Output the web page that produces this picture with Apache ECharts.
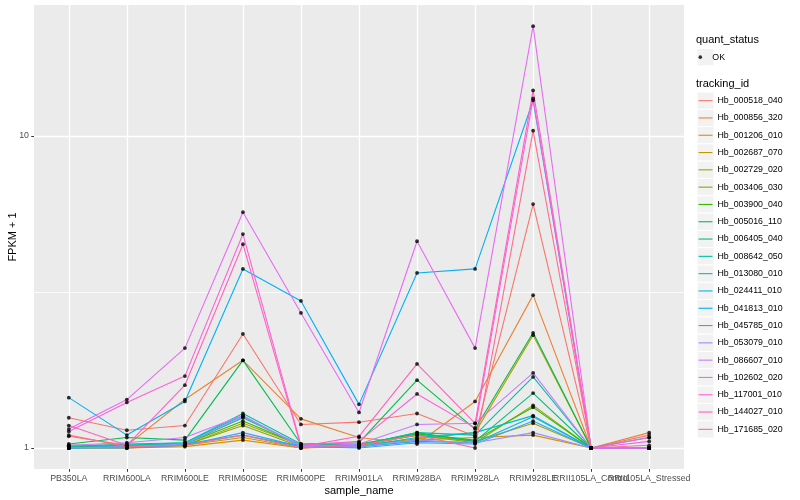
<!DOCTYPE html>
<html><head><meta charset="utf-8">
<script src="https://cdn.jsdelivr.net/npm/echarts@6/dist/echarts.min.js"></script>
<style>html,body{margin:0;padding:0;background:#fff}#c{width:800px;height:500px}</style>
</head><body><div id="c"></div>
<script>
// ---- data ----
const categories = ['PB350LA','RRIM600LA','RRIM600LE','RRIM600SE','RRIM600PE','RRIM901LA','RRIM928BA','RRIM928LA','RRIM928LE','RRII105LA_Control','RRII105LA_Stressed'];
const trackingIds = ['Hb_000518_040','Hb_000856_320','Hb_001206_010','Hb_002687_070','Hb_002729_020','Hb_003406_030','Hb_003900_040','Hb_005016_110','Hb_006405_040','Hb_008642_050','Hb_013080_010','Hb_024411_010','Hb_041813_010','Hb_045785_010','Hb_053079_010','Hb_086607_010','Hb_102602_020','Hb_117001_010','Hb_144027_010','Hb_171685_020'];
const Hb_000518_040 = [1.25, 1.14, 1.18, 2.32, 1.19, 1.21, 1.29, 1.09, 6.05, 1, 1.10];
const Hb_000856_320 = [1.09, 1.02, 1.43, 1.91, 1.24, 1.08, 1.03, 1.41, 3.09, 1, 1.12];
const Hb_001206_010 = [1.00, 1.00, 1.01, 1.06, 1.00, 1.01, 1.06, 1.08, 1.10, 1, 1.00];
const Hb_002687_070 = [1.00, 1.00, 1.02, 1.08, 1.00, 1.02, 1.07, 1.12, 2.30, 1, 1.00];
const Hb_002729_020 = [1.00, 1.01, 1.02, 1.20, 1.02, 1.02, 1.10, 1.05, 1.20, 1, 1.00];
const Hb_003406_030 = [1.01, 1.01, 1.02, 1.18, 1.01, 1.02, 1.10, 1.04, 1.37, 1, 1.00];
const Hb_003900_040 = [1.02, 1.02, 1.03, 1.22, 1.02, 1.03, 1.11, 1.06, 1.35, 1, 1.00];
const Hb_005016_110 = [1.03, 1.08, 1.06, 1.91, 1.03, 1.04, 1.65, 1.15, 2.34, 1, 1.00];
const Hb_006405_040 = [1.00, 1.02, 1.03, 1.25, 1.02, 1.02, 1.12, 1.05, 1.50, 1, 1.00];
const Hb_008642_050 = [1.01, 1.03, 1.04, 1.29, 1.03, 1.02, 1.12, 1.10, 1.69, 1, 1.00];
const Hb_013080_010 = [1.00, 1.02, 1.04, 1.27, 1.01, 1.01, 1.08, 1.12, 1.27, 1, 1.00];
const Hb_024411_010 = [1.00, 1.01, 1.03, 1.10, 1.01, 1.01, 1.05, 1.04, 1.26, 1, 1.00];
const Hb_041813_010 = [1.45, 1.10, 1.41, 3.75, 2.96, 1.38, 3.64, 3.75, 13.0, 1, 1.08];
const Hb_045785_010 = [1.00, 1.00, 1.02, 1.12, 1.01, 1.00, 1.04, 1.03, 1.22, 1, 1.00];
const Hb_053079_010 = [1.00, 1.01, 1.03, 1.26, 1.02, 1.01, 1.06, 1.04, 1.12, 1, 1.00];
const Hb_086607_010 = [1.02, 1.04, 1.08, 1.27, 1.01, 1.03, 1.19, 1.20, 1.74, 1, 1.00];
const Hb_102602_020 = [1.15, 1.43, 2.09, 5.70, 2.71, 1.30, 4.60, 2.09, 22.5, 1, 1.05];
const Hb_117001_010 = [1.13, 1.40, 1.70, 4.85, 1.02, 1.05, 1.49, 1.16, 13.2, 1, 1.00];
const Hb_144027_010 = [1.18, 1.02, 1.59, 4.50, 1.01, 1.09, 1.86, 1.20, 14.0, 1, 1.08];
const Hb_171685_020 = [1.10, 1.01, 1.02, 1.10, 1.00, 1.02, 1.10, 1.00, 10.4, 1, 1.02];
const seriesValues = [Hb_000518_040,Hb_000856_320,Hb_001206_010,Hb_002687_070,Hb_002729_020,Hb_003406_030,Hb_003900_040,Hb_005016_110,Hb_006405_040,Hb_008642_050,Hb_013080_010,Hb_024411_010,Hb_041813_010,Hb_045785_010,Hb_053079_010,Hb_086607_010,Hb_102602_020,Hb_117001_010,Hb_144027_010,Hb_171685_020];
const colors = ['#F8766D','#EA8331','#D89000','#C09B00','#A3A500','#7CAE00','#39B600','#00BB4E','#00BF7D','#00C1A3','#00BFC4','#00BAE0','#00B0F6','#35A2FF','#9590FF','#C77CFF','#E76BF3','#FA62DB','#FF62BC','#FF6C91'];
const yTickLabels = [1, 10];
const yMinorGrid = [3.1623];
const statusName = 'OK';

// ---- chart ----
const FONT = '"Liberation Sans", Arial, "DejaVu Sans", sans-serif';
const chart = echarts.init(document.getElementById('c'), null, {renderer: 'canvas'});
const catIdx = categories.map((_, i) => i);
// labels split over two overlaid axes so that overlapping labels are all drawn (as in the original)
const labelSetA = catIdx.filter(i => i % 2 === 0);
const labelSetB = catIdx.filter(i => i % 2 === 1);

const lineSeries = trackingIds.map((id, k) => ({
  name: id, type: 'line', symbol: 'none', silent: true, z: 2,
  color: colors[k],
  lineStyle: {color: colors[k], width: 1.1},
  data: seriesValues[k].map((v, j) => [j, v])
}));
const pts = [];
seriesValues.forEach(arr => arr.forEach((v, j) => pts.push([j, v])));

const KEY_TOP = 92, KEY_H = 17.3;
const graphics = [
  {type: 'text', left: 696, top: 34, style: {text: 'quant_status', font: '11px ' + FONT, fill: '#000'}},
  {type: 'rect', shape: {x: 697, y: 48.5, width: 17, height: 17.3}, style: {fill: '#F2F2F2', stroke: '#fff', lineWidth: 1}},
  {type: 'text', left: 696, top: 78, style: {text: 'tracking_id', font: '11px ' + FONT, fill: '#000'}}
];
trackingIds.forEach((id, i) => graphics.push({type: 'rect', shape: {x: 697, y: KEY_TOP + i * KEY_H, width: 17, height: KEY_H}, style: {fill: '#F2F2F2', stroke: '#fff', lineWidth: 1}}));

const labelStyle = {margin: 5, fontSize: 8.8, color: '#4D4D4D', fontFamily: FONT,
  showMinLabel: true, showMaxLabel: true, hideOverlap: false,
  formatter: v => categories[Math.round(v)] || ''};

chart.setOption({
  animation: false,
  backgroundColor: '#fff',
  textStyle: {fontFamily: FONT},
  grid: {left: 34, right: 116, top: 5, bottom: 31, show: true, backgroundColor: '#EBEBEB', borderWidth: 0,
    containLabel: false, outerBoundsMode: 'none'},
  xAxis: [{
    type: 'value', min: -0.6, max: 10.6, position: 'bottom',
    name: 'sample_name', nameLocation: 'middle', nameGap: 16, nameMoveOverlap: false,
    nameTextStyle: {fontSize: 11, color: '#000', fontFamily: FONT},
    axisLine: {show: false, onZero: false},
    axisTick: {show: true, length: 2.75, lineStyle: {color: '#333', width: 1}, customValues: catIdx},
    axisLabel: Object.assign({customValues: labelSetA}, labelStyle),
    splitLine: {show: true, lineStyle: {color: '#fff', width: 1.3}}
  }, {
    type: 'value', min: -0.6, max: 10.6, position: 'bottom', offset: 0,
    axisLine: {show: false, onZero: false},
    axisTick: {show: false},
    axisLabel: Object.assign({customValues: labelSetB}, labelStyle),
    splitLine: {show: false}
  }],
  yAxis: {
    type: 'log', logBase: 10, min: Math.pow(10, -0.0673), max: Math.pow(10, 1.4199),
    name: 'FPKM + 1', nameLocation: 'middle', nameGap: 15.5, nameRotate: 90, nameMoveOverlap: false,
    nameTextStyle: {fontSize: 11, color: '#000', fontFamily: FONT},
    axisLine: {show: false, onZero: false},
    axisTick: {show: true, length: 2.75, lineStyle: {color: '#333', width: 1}, customValues: yTickLabels},
    axisLabel: {customValues: yTickLabels, margin: 5, fontSize: 8.8, color: '#4D4D4D', fontFamily: FONT,
      showMinLabel: true, showMaxLabel: true,
      formatter: v => String(Math.round(v))},
    splitLine: {show: true, lineStyle: {color: '#fff', width: 1.3}}
  },
  legend: [
    {show: true, data: trackingIds, orient: 'vertical', left: 698.5, top: KEY_TOP, padding: 0, itemGap: 0,
      itemWidth: 14, itemHeight: KEY_H, icon: 'path://M0 0H14V1.1H0Z', selectedMode: false,
      textStyle: {fontSize: 8.8, lineHeight: KEY_H, height: KEY_H, color: '#000', fontFamily: FONT}},
    {show: true, data: [statusName], orient: 'vertical', left: 698.5, top: 48.5, padding: 0, itemGap: 0,
      itemWidth: 14, itemHeight: 3.6, icon: 'circle', itemStyle: {color: '#000'}, selectedMode: false,
      textStyle: {fontSize: 8.8, lineHeight: 17.3, height: 17.3, color: '#000', fontFamily: FONT}}
  ],
  graphic: graphics,
  series: lineSeries.concat([{
    name: statusName, type: 'scatter', symbol: 'circle', symbolSize: 3.8, silent: true, z: 3,
    itemStyle: {color: '#000'}, data: pts,
    markLine: {silent: true, z: 1, symbol: 'none', label: {show: false},
      lineStyle: {color: '#fff', width: 0.8, type: 'solid', opacity: 1},
      data: yMinorGrid.map(v => ({yAxis: v}))}
  }])
});
</script></body></html>
